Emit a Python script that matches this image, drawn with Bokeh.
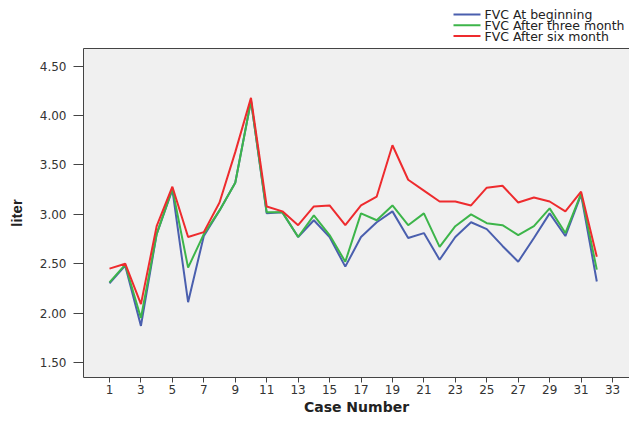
from bokeh.plotting import figure
from bokeh.layouts import column
from bokeh.models import Range1d, FixedTicker, LinearAxis, NumeralTickFormatter
from bokeh.core.properties import value
from bokeh.embed import file_html
from bokeh.resources import INLINE

cases = list(range(1, 33))
fvc_begin = [2.30, 2.48, 1.87, 2.80, 3.25, 2.11, 2.78, 3.04, 3.32, 4.15,
             3.01, 3.02, 2.77, 2.94, 2.77, 2.47, 2.77, 2.92, 3.03, 2.76,
             2.81, 2.54, 2.77, 2.92, 2.85, 2.68, 2.52, 2.76, 3.01, 2.78,
             3.20, 2.32]
fvc_three = [2.31, 2.49, 1.95, 2.80, 3.26, 2.46, 2.80, 3.04, 3.32, 4.15,
             3.02, 3.02, 2.77, 2.99, 2.79, 2.52, 3.01, 2.94, 3.09, 2.89,
             3.01, 2.67, 2.88, 3.00, 2.91, 2.89, 2.79, 2.88, 3.06, 2.81,
             3.21, 2.44]
fvc_six = [2.45, 2.50, 2.09, 2.88, 3.28, 2.77, 2.82, 3.12, 3.63, 4.18,
           3.08, 3.03, 2.89, 3.08, 3.09, 2.89, 3.09, 3.18, 3.70, 3.35,
           3.24, 3.13, 3.13, 3.09, 3.27, 3.29, 3.12, 3.17, 3.13, 3.03,
           3.23, 2.57]
series_names = ["FVC At beginning", "FVC After three month", "FVC After six month"]
series_colors = ["#4a5fae", "#3db54a", "#ee2b2e"]
x_ticks = list(range(1, 34, 2))
y_ticks = [1.5, 2.0, 2.5, 3.0, 3.5, 4.0, 4.5]

FONT = "DejaVu Sans"
ax_col = "#444444"
LEFT = 83
W, H = 629, 417
TOP = 48

# ---- legend strip (pixel coordinate canvas, aligned with the plot frame) ----
lf = figure(width=W, height=TOP, output_backend="svg", toolbar_location=None,
            x_range=Range1d(LEFT, W), y_range=Range1d(TOP, 0), min_border=0)
lf.axis.visible = False
lf.grid.visible = False
lf.outline_line_color = None
lf.background_fill_color = "white"
lf.border_fill_color = "white"
row_y = [14 + 10.75 * i for i in range(len(series_names))]
gx0, gx1, tx = 453, 480, 484
lf.segment(x0=[gx0] * 3, y0=row_y, x1=[gx1] * 3, y1=row_y,
           line_color=series_colors, line_width=2)
lf.text(x=[tx] * 3, y=row_y, text=series_names, text_baseline="middle",
        text_align="left", text_font=value(FONT), text_font_size="12.5px",
        text_color="#222222")

# ---- main plot ----
p = figure(width=W, height=H - TOP, output_backend="svg", toolbar_location=None,
           x_range=Range1d(-0.654, 34.08), y_range=Range1d(1.347, 4.68),
           min_border_left=LEFT, min_border_right=0, min_border_top=0, min_border_bottom=38)
p.background_fill_color = "#f0f0f0"
p.border_fill_color = "white"
p.outline_line_color = None
p.xgrid.visible = False
p.ygrid.visible = False

for ys, col in zip([fvc_begin, fvc_three, fvc_six], series_colors):
    p.line(cases, ys, line_color=col, line_width=2)

xa = p.xaxis[0]
xa.ticker = FixedTicker(ticks=x_ticks)
xa.minor_tick_line_color = None
xa.major_tick_out = 5
xa.major_tick_in = 0
xa.major_label_standoff = 2
xa.axis_line_color = ax_col
xa.major_tick_line_color = ax_col
xa.major_label_text_font = FONT
xa.major_label_text_font_size = "12px"
xa.major_label_text_color = "#333333"
xa.axis_label = "Case Number"
xa.axis_label_text_font = FONT
xa.axis_label_text_font_style = "bold"
xa.axis_label_text_font_size = "14px"
xa.axis_label_standoff = 2
xa.axis_label_text_color = "#222222"

ya = p.yaxis[0]
ya.ticker = FixedTicker(ticks=y_ticks)
ya.formatter = NumeralTickFormatter(format="0.00")
ya.minor_tick_line_color = None
ya.major_tick_out = 10
ya.major_tick_in = 0
ya.major_label_standoff = 7
ya.axis_line_color = ax_col
ya.major_tick_line_color = ax_col
ya.major_label_text_font = FONT
ya.major_label_text_font_size = "12px"
ya.major_label_text_color = "#333333"
ya.axis_label = "liter"
ya.axis_label_text_font = "Liberation Sans"
ya.axis_label_text_font_style = "bold"
ya.axis_label_text_font_size = "15px"
ya.axis_label_standoff = 12
ya.axis_label_text_color = "#222222"

top = LinearAxis(ticker=FixedTicker(ticks=[]), axis_line_color=ax_col,
                 major_tick_line_color=None, minor_tick_line_color=None,
                 major_label_standoff=0)
p.add_layout(top, "above")

layout = column(lf, p, spacing=0)
open("out.html", "w").write(file_html(layout, INLINE))
